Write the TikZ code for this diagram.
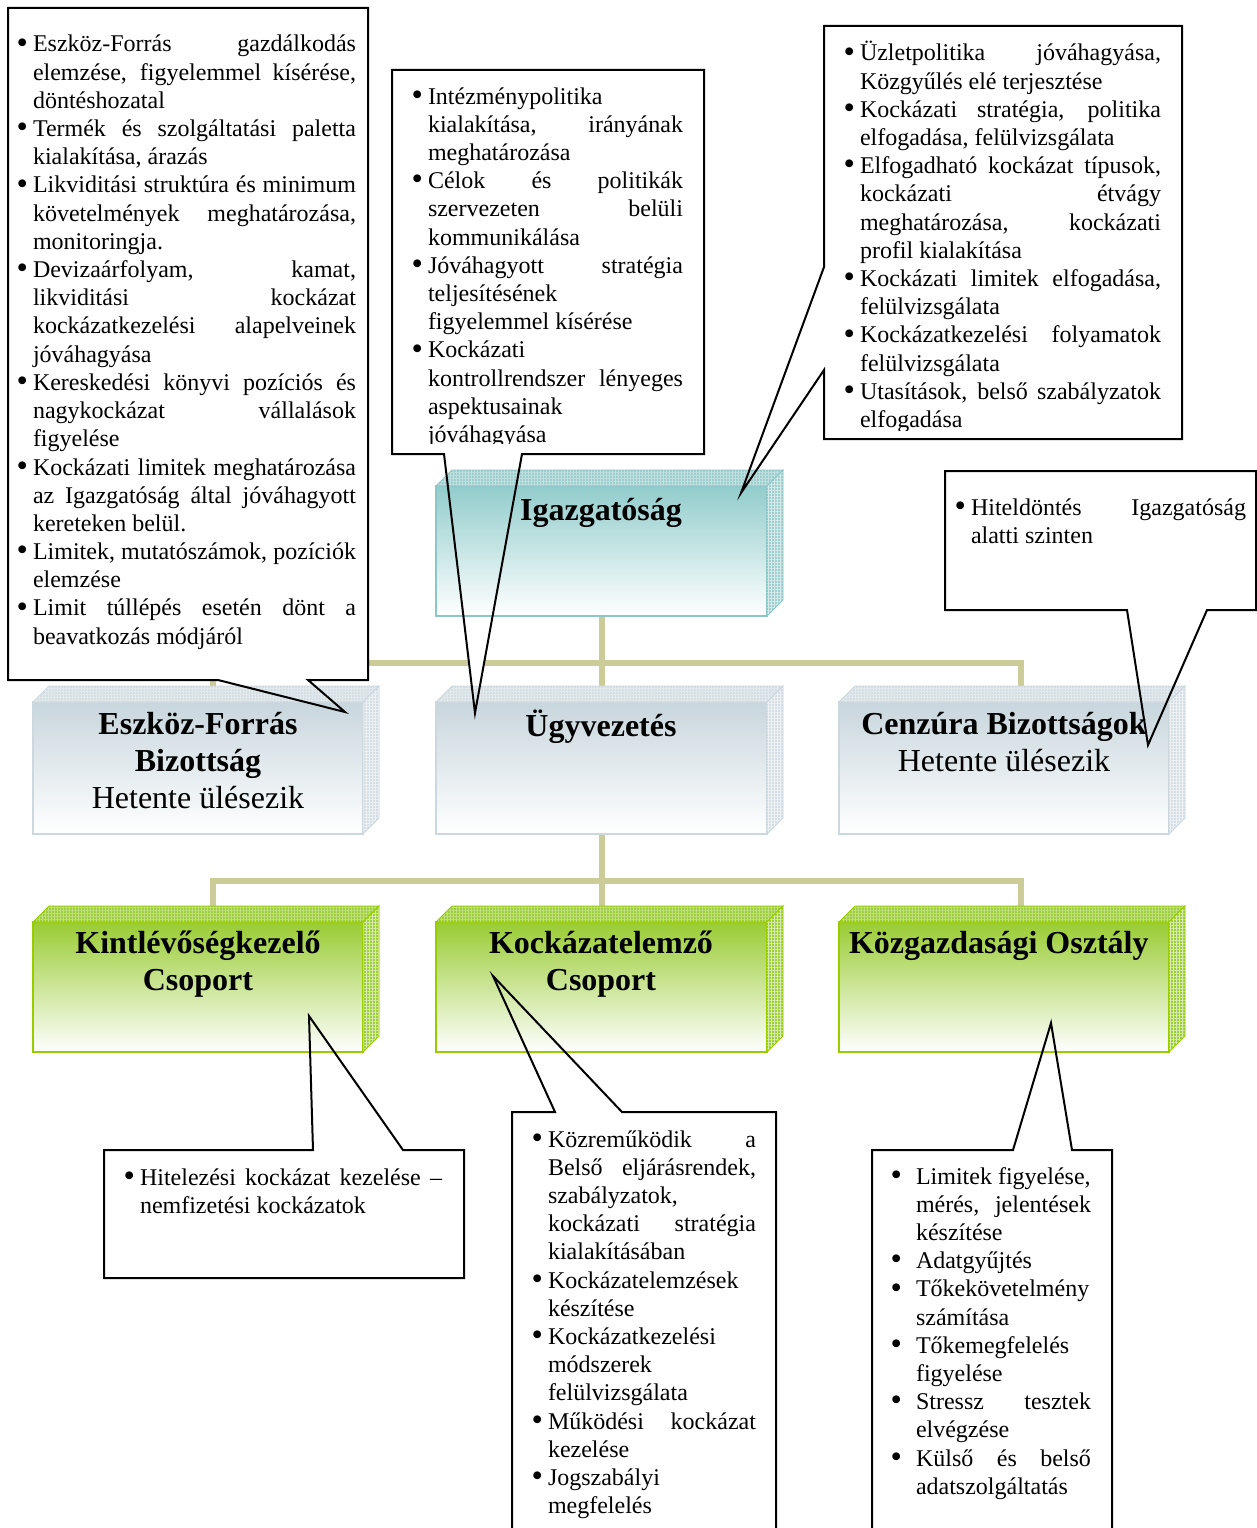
\documentclass[tikz,border=0pt]{standalone}
\usepackage{fontspec}
\setmainfont{Liberation Serif}
\usetikzlibrary{calc,patterns.meta}
\pgfdeclarelayer{bg}\pgfdeclarelayer{conn}\pgfdeclarelayer{cfill}
\pgfsetlayers{bg,conn,cfill,main}
\definecolor{connc}{RGB}{204,204,153}
\definecolor{igtop}{RGB}{146,204,204}
\definecolor{igbrd}{RGB}{140,198,198}
\definecolor{igface}{RGB}{158,206,206}
\definecolor{grtop}{RGB}{200,214,221}
\definecolor{grbrd}{RGB}{204,216,222}
\definecolor{grface}{RGB}{212,222,227}
\definecolor{gntop}{RGB}{153,204,51}
\definecolor{gnbrd}{RGB}{153,204,0}
\definecolor{gnface}{RGB}{158,206,58}
\newlength\tw \newlength\bgap
\newcommand\J[1]{\hbox to\tw{#1}}
\newcommand\N[1]{\hbox{#1}}
\newcommand\B{\llap{\raisebox{-1.2pt}{\scalebox{1.35}{\textbullet}}\hskip\bgap}}
\newcommand\ctext[3]{\parbox[t]{#1}{\setlength\tw{#1}\setlength\bgap{#2}\fontsize{24}{28.2}\selectfont\lineskiplimit=-100pt\relax #3}}
\newcommand\cubebox[8]{%
 \node[draw=#7, line width=1.5pt, top color=#6, bottom color=white, minimum width=#4, minimum height=#5, inner sep=0pt, outer sep=0pt, anchor=north west] (#1) at (#2,#3) {};
 \path[preaction={fill=#8}, pattern={Hatch[angle=0,distance=3pt,line width=0.4pt]}, pattern color=white!35!#8] (#1.north west) -- ++(16,-16) -- ($(#1.north east)+(16,-16)$) -- (#1.north east) -- cycle;
 \draw[#7, line width=0.8pt] (#1.north west) -- ++(16,-16) -- ($(#1.north east)+(16,-16)$) -- (#1.north east) -- cycle;
 \path[preaction={fill=#8}, pattern={Hatch[angle=0,distance=3pt,line width=0.5pt]}, pattern color=white!60!#8] (#1.north east) -- ++(16,-16) -- ($(#1.south east)+(16,-16)$) -- (#1.south east) -- cycle;
 \draw[#7, line width=0.8pt] (#1.north east) -- ++(16,-16) -- ($(#1.south east)+(16,-16)$) -- (#1.south east) -- cycle;
}
\newcommand\callout[1]{\begin{pgfonlayer}{cfill}\fill[white] #1;\end{pgfonlayer}\draw[cline] #1;}
\begin{document}
\begin{tikzpicture}[x=1pt,y=-1pt,
  connline/.style={draw=connc, line width=6pt},
  cline/.style={draw=black, line width=2pt, line join=miter},
  txt/.style={inner sep=0pt, outer sep=0pt, anchor=base west},
  ttl/.style={inner sep=0pt, outer sep=0pt, anchor=base, font=\fontsize{32}{37}\selectfont}]
\useasboundingbox (0,0) rectangle (1257,1528);
\begin{pgfonlayer}{bg}\fill[white] (0,0) rectangle (1257,1528);\end{pgfonlayer}

% boxes
\cubebox{igaz}{436}{486}{331pt}{130pt}{igtop}{igbrd}{igface}
\cubebox{esz}{33}{702}{330pt}{132pt}{grtop}{grbrd}{grface}
\cubebox{ugy}{436}{702}{331pt}{132pt}{grtop}{grbrd}{grface}
\cubebox{cen}{839}{702}{330pt}{132pt}{grtop}{grbrd}{grface}
\cubebox{kint}{33}{922}{330pt}{130pt}{gntop}{gnbrd}{gnface}
\cubebox{kock}{436}{922}{331pt}{130pt}{gntop}{gnbrd}{gnface}
\cubebox{kozg}{839}{922}{330pt}{130pt}{gntop}{gnbrd}{gnface}

% connectors
\coordinate (bus1) at (601,663);
\coordinate (bus2) at (601,881);
\begin{pgfonlayer}{conn}
\draw[connline] (igaz.south) -- (ugy.north);
\draw[connline] ([xshift=15pt]esz.north) |- (bus1) -| ([xshift=17pt]cen.north);
\draw[connline] (ugy.south) -- (kock.north);
\draw[connline] ([xshift=15pt]kint.north) |- (bus2) -| ([xshift=17pt]kozg.north);
\end{pgfonlayer}

% callouts
\callout{(8,8) -- (368,8) -- (368,680) -- (308,680) -- (345,712) -- (218,680) -- (8,680) -- cycle}
\callout{(392,70) -- (704,70) -- (704,454) -- (522,454) -- (475,713) -- (444,454) -- (392,454) -- cycle}
\callout{(824,26) -- (1182,26) -- (1182,439) -- (824,439) -- (824,370) -- (741,493) -- (824,267) -- cycle}
\callout{(945,471) -- (1256,471) -- (1256,610) -- (1207,610) -- (1148,745) -- (1127,610) -- (945,610) -- cycle}
\callout{(104,1150) -- (313,1150) -- (309,1016) -- (403,1150) -- (464,1150) -- (464,1278) -- (104,1278) -- cycle}
\callout{(512,1112) -- (555,1112) -- (493,976) -- (622,1112) -- (776,1112) -- (776,1545) -- (512,1545) -- cycle}
\callout{(872,1150) -- (1013,1150) -- (1051,1023) -- (1072,1150) -- (1112,1150) -- (1112,1545) -- (872,1545) -- cycle}

% box titles
\node[ttl] (igazT) at (601,520) {\bfseries Igazgatóság};
\node[ttl] (eszT) at (198,734) {\parbox[t]{330pt}{\centering\bfseries Eszköz-Forrás\\Bizottság\\\mdseries Hetente ülésezik}};
\node[ttl] (ugyT) at (601,736) {\bfseries Ügyvezetés};
\node[ttl] (cenT) at (1004,734) {\parbox[t]{340pt}{\centering\bfseries Cenzúra Bizottságok\\\mdseries Hetente ülésezik}};
\node[ttl] (kintT) at (198,953) {\parbox[t]{330pt}{\centering\bfseries Kintlévőségkezelő\\Csoport}};
\node[ttl] (kockT) at (601,953) {\parbox[t]{330pt}{\centering\bfseries Kockázatelemző\\Csoport}};
\node[ttl, anchor=base west] (kozgT) at (849,953) {\bfseries Közgazdasági Osztály};

% callout texts
\node[txt] (c1t) at (33,52) {\ctext{323pt}{5pt}{%
\J{\B Eszköz-Forrás gazdálkodás}
\J{elemzése, figyelemmel kísérése,}
\N{döntéshozatal}
\J{\B Termék és szolgáltatási paletta}
\N{kialakítása, árazás}
\J{\B Likviditási struktúra és minimum}
\J{követelmények meghatározása,}
\N{monitoringja.}
\J{\B Devizaárfolyam, kamat,}
\J{likviditási kockázat}
\J{kockázatkezelési alapelveinek}
\N{jóváhagyása}
\J{\B Kereskedési könyvi pozíciós és}
\J{nagykockázat vállalások}
\N{figyelése}
\J{\B Kockázati limitek meghatározása}
\J{az Igazgatóság által jóváhagyott}
\N{kereteken belül.}
\J{\B Limitek, mutatószámok, pozíciók}
\N{elemzése}
\J{\B Limit túllépés esetén dönt a}
\N{beavatkozás módjáról}}};

\begin{scope}
\clip (392,70) rectangle (704,443);
\node[txt] (c2t) at (428,104) {\ctext{255pt}{5pt}{%
\N{\B Intézménypolitika}
\J{kialakítása, irányának}
\N{meghatározása}
\J{\B Célok és politikák}
\J{szervezeten belüli}
\N{kommunikálása}
\J{\B Jóváhagyott stratégia}
\N{teljesítésének}
\N{figyelemmel kísérése}
\N{\B Kockázati}
\J{kontrollrendszer lényeges}
\N{aspektusainak}
\N{jóváhagyása}}};
\end{scope}

\begin{scope}
\clip (824,26) rectangle (1182,430);
\node[txt] (c3t) at (860,61) {\ctext{301pt}{5pt}{%
\J{\B Üzletpolitika jóváhagyása,}
\N{Közgyűlés elé terjesztése}
\J{\B Kockázati stratégia, politika}
\N{elfogadása, felülvizsgálata}
\J{\B Elfogadható kockázat típusok,}
\J{kockázati étvágy}
\J{meghatározása, kockázati}
\N{profil kialakítása}
\J{\B Kockázati limitek elfogadása,}
\N{felülvizsgálata}
\J{\B Kockázatkezelési folyamatok}
\N{felülvizsgálata}
\J{\B Utasítások, belső szabályzatok}
\N{elfogadása}}};
\end{scope}

\node[txt] (c4t) at (971,515) {\ctext{275pt}{5pt}{%
\J{\B Hiteldöntés Igazgatóság}
\N{alatti szinten}}};

\node[txt] (c5t) at (140,1185) {\ctext{302pt}{5pt}{%
\J{\B Hitelezési kockázat kezelése –}
\N{nemfizetési kockázatok}}};

\node[txt] (c6t) at (548,1147) {\ctext{208pt}{5pt}{%
\J{\B Közreműködik a}
\J{Belső eljárásrendek,}
\N{szabályzatok,}
\J{kockázati stratégia}
\N{kialakításában}
\N{\B Kockázatelemzések}
\N{készítése}
\N{\B Kockázatkezelési}
\N{módszerek}
\N{felülvizsgálata}
\J{\B Működési kockázat}
\N{kezelése}
\N{\B Jogszabályi}
\N{megfelelés}}};

\node[txt] (c7t) at (916,1184) {\ctext{175pt}{14pt}{%
\N{\B Limitek figyelése,}
\J{mérés, jelentések}
\N{készítése}
\N{\B Adatgyűjtés}
\N{\B Tőkekövetelmény}
\N{számítása}
\N{\B Tőkemegfelelés}
\N{figyelése}
\J{\B Stressz tesztek}
\N{elvégzése}
\J{\B Külső és belső}
\N{adatszolgáltatás}}};
\end{tikzpicture}
\end{document}
